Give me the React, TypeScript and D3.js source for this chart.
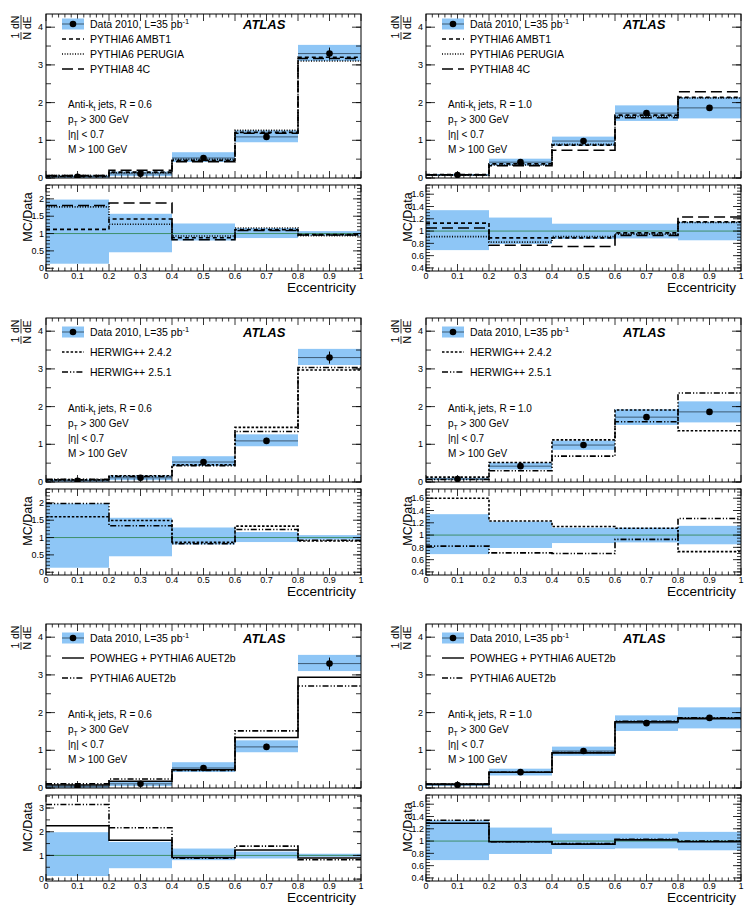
import * as d3 from 'd3';

const WIDTH = 750, HEIGHT = 910;
const FONT = "'Liberation Sans', Arial, Helvetica, sans-serif";

// bin edges and axis ticks
const EDGES = [0, 0.2, 0.4, 0.6, 0.8, 1.0];
const X_LABELS = [0, 0.1, 0.2, 0.3, 0.4, 0.5, 0.6, 0.7, 0.8, 0.9, 1];

// data, anti-kt R = 0.6
const DATA_R06 = [0.035, 0.11, 0.53, 1.09, 3.3];
const STAT_R06 = [0.01, 0.02, 0.04, 0.08, 0.16];
const BAND_LO_R06 = [0.13, 0.46, 0.8, 0.87, 0.94];
const BAND_HI_R06 = [1.98, 1.57, 1.29, 1.16, 1.07];

// data, anti-kt R = 1.0
const DATA_R10 = [0.08, 0.42, 0.98, 1.72, 1.86];
const STAT_R10 = [0.01, 0.02, 0.03, 0.04, 0.05];
const BAND_LO_R10 = [0.69, 0.79, 0.87, 0.88, 0.85];
const BAND_HI_R10 = [1.34, 1.22, 1.12, 1.12, 1.15];

// MC / Data ratios
const AMBT1_R06 = [1.12, 1.42, 0.88, 1.11, 0.97];
const PERUGIA_R06 = [1.77, 1.27, 0.93, 1.16, 0.94];
const P8_4C_R06 = [1.81, 1.88, 0.82, 1.09, 0.96];
const AMBT1_R10 = [1.13, 0.89, 0.89, 0.97, 1.15];
const PERUGIA_R10 = [0.91, 0.82, 0.91, 0.95, 1.14];
const P8_4C_R10 = [1.05, 0.77, 0.75, 0.93, 1.23];

const HW242_R06 = [1.6, 1.49, 0.86, 1.33, 0.9];
const HW251_R06 = [1.98, 1.34, 0.82, 1.23, 0.92];
const HW242_R10 = [1.6, 1.23, 1.14, 1.11, 0.73];
const HW251_R10 = [0.82, 0.71, 0.7, 0.93, 1.27];

const POWHEG_R06 = [2.25, 1.64, 0.91, 1.23, 0.89];
const AUET2B_R06 = [3.15, 2.17, 0.88, 1.39, 0.82];
const POWHEG_R10 = [1.29, 0.99, 0.95, 1.02, 0.99];
const AUET2B_R10 = [1.34, 0.99, 0.96, 1.03, 1.0];

const BAND_COLOR = '#8ec6f6';

const STYLE = {
  ambt1: '4,3',
  perugia: '1,1.6',
  p84c: '11,5',
  hw242: '2.5,1.8',
  hw251: '6,2,1.2,2,1.2,2',
  powheg: '',
  auet2b: '6,2,1.2,2,1.2,2',
};

const COL_X = [46, 426];
const PLOT_W = 315;
const ROW_Y = [0, 304, 610];
const MAIN_TOP = 14, MAIN_BOT = 178, RAT_TOP = 185, RAT_BOT = 271;

type MC = { name: string; ratio: number[]; dash: string };
type Spec = {
  col: number; row: number; R: string;
  data: number[]; stat: number[]; lo: number[]; hi: number[];
  mc: MC[];
  ratioDomain: [number, number]; ratioMajor: number[]; ratioMinor: number;
  legendStep: number; legendTop: number;
};

const range = (a: number, b: number, s: number) => {
  const out: number[] = [];
  for (let v = a; v <= b + 1e-9; v += s) out.push(+v.toFixed(4));
  return out;
};

const PANELS: Spec[] = [
  { col: 0, row: 0, R: '0.6', data: DATA_R06, stat: STAT_R06, lo: BAND_LO_R06, hi: BAND_HI_R06,
    mc: [{ name: 'PYTHIA6 AMBT1', ratio: AMBT1_R06, dash: STYLE.ambt1 },
         { name: 'PYTHIA6 PERUGIA', ratio: PERUGIA_R06, dash: STYLE.perugia },
         { name: 'PYTHIA8 4C', ratio: P8_4C_R06, dash: STYLE.p84c }],
    ratioDomain: [-0.08, 2.4], ratioMajor: [0, 0.5, 1, 1.5, 2], ratioMinor: 0.1, legendStep: 15, legendTop: 10 },
  { col: 1, row: 0, R: '1.0', data: DATA_R10, stat: STAT_R10, lo: BAND_LO_R10, hi: BAND_HI_R10,
    mc: [{ name: 'PYTHIA6 AMBT1', ratio: AMBT1_R10, dash: STYLE.ambt1 },
         { name: 'PYTHIA6 PERUGIA', ratio: PERUGIA_R10, dash: STYLE.perugia },
         { name: 'PYTHIA8 4C', ratio: P8_4C_R10, dash: STYLE.p84c }],
    ratioDomain: [0.35, 1.75], ratioMajor: [0.4, 0.6, 0.8, 1, 1.2, 1.4, 1.6], ratioMinor: 0.05, legendStep: 15, legendTop: 10 },
  { col: 0, row: 1, R: '0.6', data: DATA_R06, stat: STAT_R06, lo: BAND_LO_R06, hi: BAND_HI_R06,
    mc: [{ name: 'HERWIG++ 2.4.2', ratio: HW242_R06, dash: STYLE.hw242 },
         { name: 'HERWIG++ 2.5.1', ratio: HW251_R06, dash: STYLE.hw251 }],
    ratioDomain: [-0.08, 2.4], ratioMajor: [0, 0.5, 1, 1.5, 2], ratioMinor: 0.1, legendStep: 20, legendTop: 14 },
  { col: 1, row: 1, R: '1.0', data: DATA_R10, stat: STAT_R10, lo: BAND_LO_R10, hi: BAND_HI_R10,
    mc: [{ name: 'HERWIG++ 2.4.2', ratio: HW242_R10, dash: STYLE.hw242 },
         { name: 'HERWIG++ 2.5.1', ratio: HW251_R10, dash: STYLE.hw251 }],
    ratioDomain: [0.35, 1.75], ratioMajor: [0.4, 0.6, 0.8, 1, 1.2, 1.4, 1.6], ratioMinor: 0.05, legendStep: 20, legendTop: 14 },
  { col: 0, row: 2, R: '0.6', data: DATA_R06, stat: STAT_R06, lo: BAND_LO_R06, hi: BAND_HI_R06,
    mc: [{ name: 'POWHEG + PYTHIA6 AUET2b', ratio: POWHEG_R06, dash: STYLE.powheg },
         { name: 'PYTHIA6 AUET2b', ratio: AUET2B_R06, dash: STYLE.auet2b }],
    ratioDomain: [-0.08, 3.55], ratioMajor: [0, 1, 2, 3], ratioMinor: 0.5, legendStep: 20, legendTop: 14 },
  { col: 1, row: 2, R: '1.0', data: DATA_R10, stat: STAT_R10, lo: BAND_LO_R10, hi: BAND_HI_R10,
    mc: [{ name: 'POWHEG + PYTHIA6 AUET2b', ratio: POWHEG_R10, dash: STYLE.powheg },
         { name: 'PYTHIA6 AUET2b', ratio: AUET2B_R10, dash: STYLE.auet2b }],
    ratioDomain: [0.35, 1.75], ratioMajor: [0.4, 0.6, 0.8, 1, 1.2, 1.4, 1.6], ratioMinor: 0.05, legendStep: 20, legendTop: 14 },
];

const Panel = ({ spec, idx }: { spec: Spec; idx: number }) => {
  const x0 = COL_X[spec.col], y0 = ROW_Y[spec.row];
  const x = d3.scaleLinear().domain([0, 1]).range([x0, x0 + PLOT_W]);
  const yM = d3.scaleLinear().domain([0, 4.35]).range([y0 + MAIN_BOT, y0 + MAIN_TOP]);
  const yR = d3.scaleLinear().domain(spec.ratioDomain).range([y0 + RAT_BOT, y0 + RAT_TOP]);

  const stepLine = (yScale: d3.ScaleLinear<number, number>) =>
    d3.line<[number, number]>().x(d => x(d[0])).y(d => yScale(d[1])).curve(d3.curveStepAfter);
  const pts = (vals: number[]) => [...vals.map((v, i) => [EDGES[i], v] as [number, number]), [1, vals[vals.length - 1]] as [number, number]];

  const xMinor = range(0, 1, 0.02);
  const mainMinor = range(0, 4, 0.5);
  const rMinor = range(Math.ceil(spec.ratioDomain[0] / spec.ratioMinor) * spec.ratioMinor, spec.ratioDomain[1], spec.ratioMinor);

  const clipM = `clipM${idx}`, clipR = `clipR${idx}`;
  const axisColor = '#000';
  const isMajorX = (v: number) => Math.abs(v * 10 - Math.round(v * 10)) < 1e-6;

  const xTicks = (yb: number, yt: number) => xMinor.map((v, i) => {
    const len = isMajorX(v) ? 7 : 3.5;
    return (
      <g key={i}>
        <line x1={x(v)} x2={x(v)} y1={yb} y2={yb - len} stroke={axisColor} strokeWidth={0.8} />
        <line x1={x(v)} x2={x(v)} y1={yt} y2={yt + len} stroke={axisColor} strokeWidth={0.8} />
      </g>
    );
  });

  const yTicks = (scale: d3.ScaleLinear<number, number>, vals: number[], len: number) => vals.map((v, i) => (
    <g key={i}>
      <line x1={x0} x2={x0 + len} y1={scale(v)} y2={scale(v)} stroke={axisColor} strokeWidth={0.8} />
      <line x1={x0 + PLOT_W} x2={x0 + PLOT_W - len} y1={scale(v)} y2={scale(v)} stroke={axisColor} strokeWidth={0.8} />
    </g>
  ));

  const legX = x0 + 16, legTxt = x0 + 44;
  const legY0 = y0 + MAIN_TOP + spec.legendTop;
  const annY = y0 + MAIN_BOT;
  const annX = x0 + 22;

  return (
    <g fontFamily={FONT}>
      <defs>
        <clipPath id={clipM}><rect x={x0} y={y0 + MAIN_TOP} width={PLOT_W} height={MAIN_BOT - MAIN_TOP} /></clipPath>
        <clipPath id={clipR}><rect x={x0} y={y0 + RAT_TOP} width={PLOT_W} height={RAT_BOT - RAT_TOP} /></clipPath>
      </defs>

      {/* main plot */}
      <g clipPath={`url(#${clipM})`}>
        {spec.data.map((d, i) => (
          <rect key={i} x={x(EDGES[i])} width={x(EDGES[i + 1]) - x(EDGES[i])}
            y={yM(d * spec.hi[i])} height={yM(d * spec.lo[i]) - yM(d * spec.hi[i])} fill={BAND_COLOR} />
        ))}
        {spec.data.map((d, i) => (
          <line key={'h' + i} x1={x(EDGES[i])} x2={x(EDGES[i + 1])} y1={yM(d)} y2={yM(d)} stroke="#3d5a73" strokeWidth={1} />
        ))}
        {spec.mc.map((m, k) => (
          <path key={k} d={stepLine(yM)(pts(m.ratio.map((r, i) => r * spec.data[i])))!} fill="none"
            stroke="#000" strokeWidth={1.6} strokeDasharray={m.dash || undefined} />
        ))}
        {spec.data.map((d, i) => {
          const cx = x((EDGES[i] + EDGES[i + 1]) / 2);
          return (
            <g key={'p' + i}>
              <line x1={cx} x2={cx} y1={yM(d - spec.stat[i])} y2={yM(d + spec.stat[i])} stroke="#000" strokeWidth={1} />
              <circle cx={cx} cy={yM(d)} r={3.3} fill="#000" />
            </g>
          );
        })}
      </g>
      <rect x={x0} y={y0 + MAIN_TOP} width={PLOT_W} height={MAIN_BOT - MAIN_TOP} fill="none" stroke="#000" strokeWidth={1} />
      {xTicks(y0 + MAIN_BOT, y0 + MAIN_TOP)}
      {yTicks(yM, [0, 1, 2, 3, 4], 9)}
      {yTicks(yM, mainMinor, 5)}
      {[0, 1, 2, 3, 4].map(v => (
        <text key={v} x={x0 - 3} y={yM(v) + 3.2} fontSize={9} textAnchor="end">{v}</text>
      ))}

      {/* main y title: 1/N dN/dE */}
      <g transform={`translate(${x0 - 24},${y0 + MAIN_TOP + 26}) rotate(-90)`} fontSize={10.5}>
        <text x={1.5} y={-3.5}>1</text>
        <line x1={0} x2={8} y1={-1} y2={-1} stroke="#000" strokeWidth={0.8} />
        <text x={0.5} y={8.5}>N</text>
        <text x={11} y={-3.5}>dN</text>
        <line x1={10.5} x2={25} y1={-1} y2={-1} stroke="#000" strokeWidth={0.8} />
        <text x={11} y={8.5}>dE</text>
      </g>

      {/* legend */}
      <rect x={legX} y={legY0 - 5.5} width={22} height={11} fill={BAND_COLOR} />
      <line x1={legX} x2={legX + 22} y1={legY0} y2={legY0} stroke="#3d5a73" strokeWidth={1} />
      <circle cx={legX + 11} cy={legY0} r={3.3} fill="#000" />
      <text x={legTxt} y={legY0 + 4} fontSize={10.5}>Data 2010, L=35 pb<tspan dy={-4} fontSize={7.5}>-1</tspan></text>
      {spec.mc.map((m, k) => {
        const ly = legY0 + (k + 1) * spec.legendStep;
        return (
          <g key={k}>
            <line x1={legX} x2={legX + 22} y1={ly} y2={ly} stroke="#000" strokeWidth={1.4} strokeDasharray={m.dash || undefined} />
            <text x={legTxt} y={ly + 4} fontSize={10.5}>{m.name}</text>
          </g>
        );
      })}
      <text x={x0 + 197} y={legY0 + 4.5} fontSize={13} fontWeight="bold" fontStyle="italic">ATLAS</text>

      {/* annotation */}
      <g fontSize={10}>
        <text x={annX} y={annY - 70}>Anti-k<tspan dy={2.5} fontSize={7}>t</tspan><tspan dy={-2.5}> jets, R = {spec.R}</tspan></text>
        <text x={annX} y={annY - 55}>p<tspan dy={2.5} fontSize={7}>T</tspan><tspan dy={-2.5}> &gt; 300 GeV</tspan></text>
        <text x={annX} y={annY - 40}>|η| &lt; 0.7</text>
        <text x={annX} y={annY - 25}>M &gt; 100 GeV</text>
      </g>

      {/* ratio plot */}
      <g clipPath={`url(#${clipR})`}>
        {spec.data.map((d, i) => (
          <rect key={i} x={x(EDGES[i])} width={x(EDGES[i + 1]) - x(EDGES[i])}
            y={yR(spec.hi[i])} height={yR(spec.lo[i]) - yR(spec.hi[i])} fill={BAND_COLOR} />
        ))}
        <line x1={x(0)} x2={x(1)} y1={yR(1)} y2={yR(1)} stroke="#3f8f6a" strokeWidth={1} />
        {spec.mc.map((m, k) => (
          <path key={k} d={stepLine(yR)(pts(m.ratio))!} fill="none"
            stroke="#000" strokeWidth={1.6} strokeDasharray={m.dash || undefined} />
        ))}
      </g>
      <rect x={x0} y={y0 + RAT_TOP} width={PLOT_W} height={RAT_BOT - RAT_TOP} fill="none" stroke="#000" strokeWidth={1} />
      {xTicks(y0 + RAT_BOT, y0 + RAT_TOP)}
      {yTicks(yR, spec.ratioMajor, 8)}
      {yTicks(yR, rMinor, 4)}
      {spec.ratioMajor.map(v => (
        <text key={v} x={x0 - 2} y={yR(v) + 3.2} fontSize={9} textAnchor="end">{v}</text>
      ))}
      {X_LABELS.map(v => (
        <text key={v} x={x(v)} y={y0 + RAT_BOT + 8} fontSize={9} textAnchor="middle">{v}</text>
      ))}
      <text x={x0 + PLOT_W - 5} y={y0 + RAT_BOT + 21} fontSize={13.5} textAnchor="end">Eccentricity</text>
      <text transform={`translate(${x0 - 14},${y0 + 217}) rotate(-90)`} fontSize={12.5} textAnchor="middle">MC/Data</text>
    </g>
  );
};

const App = () => (
  <svg width={WIDTH} height={HEIGHT} style={{ display: 'block', position: 'absolute', left: 0, top: 0, background: '#fff' }}>
    <rect width={WIDTH} height={HEIGHT} fill="#fff" />
    {PANELS.map((p, i) => <Panel key={i} spec={p} idx={i} />)}
  </svg>
);

export default App;
